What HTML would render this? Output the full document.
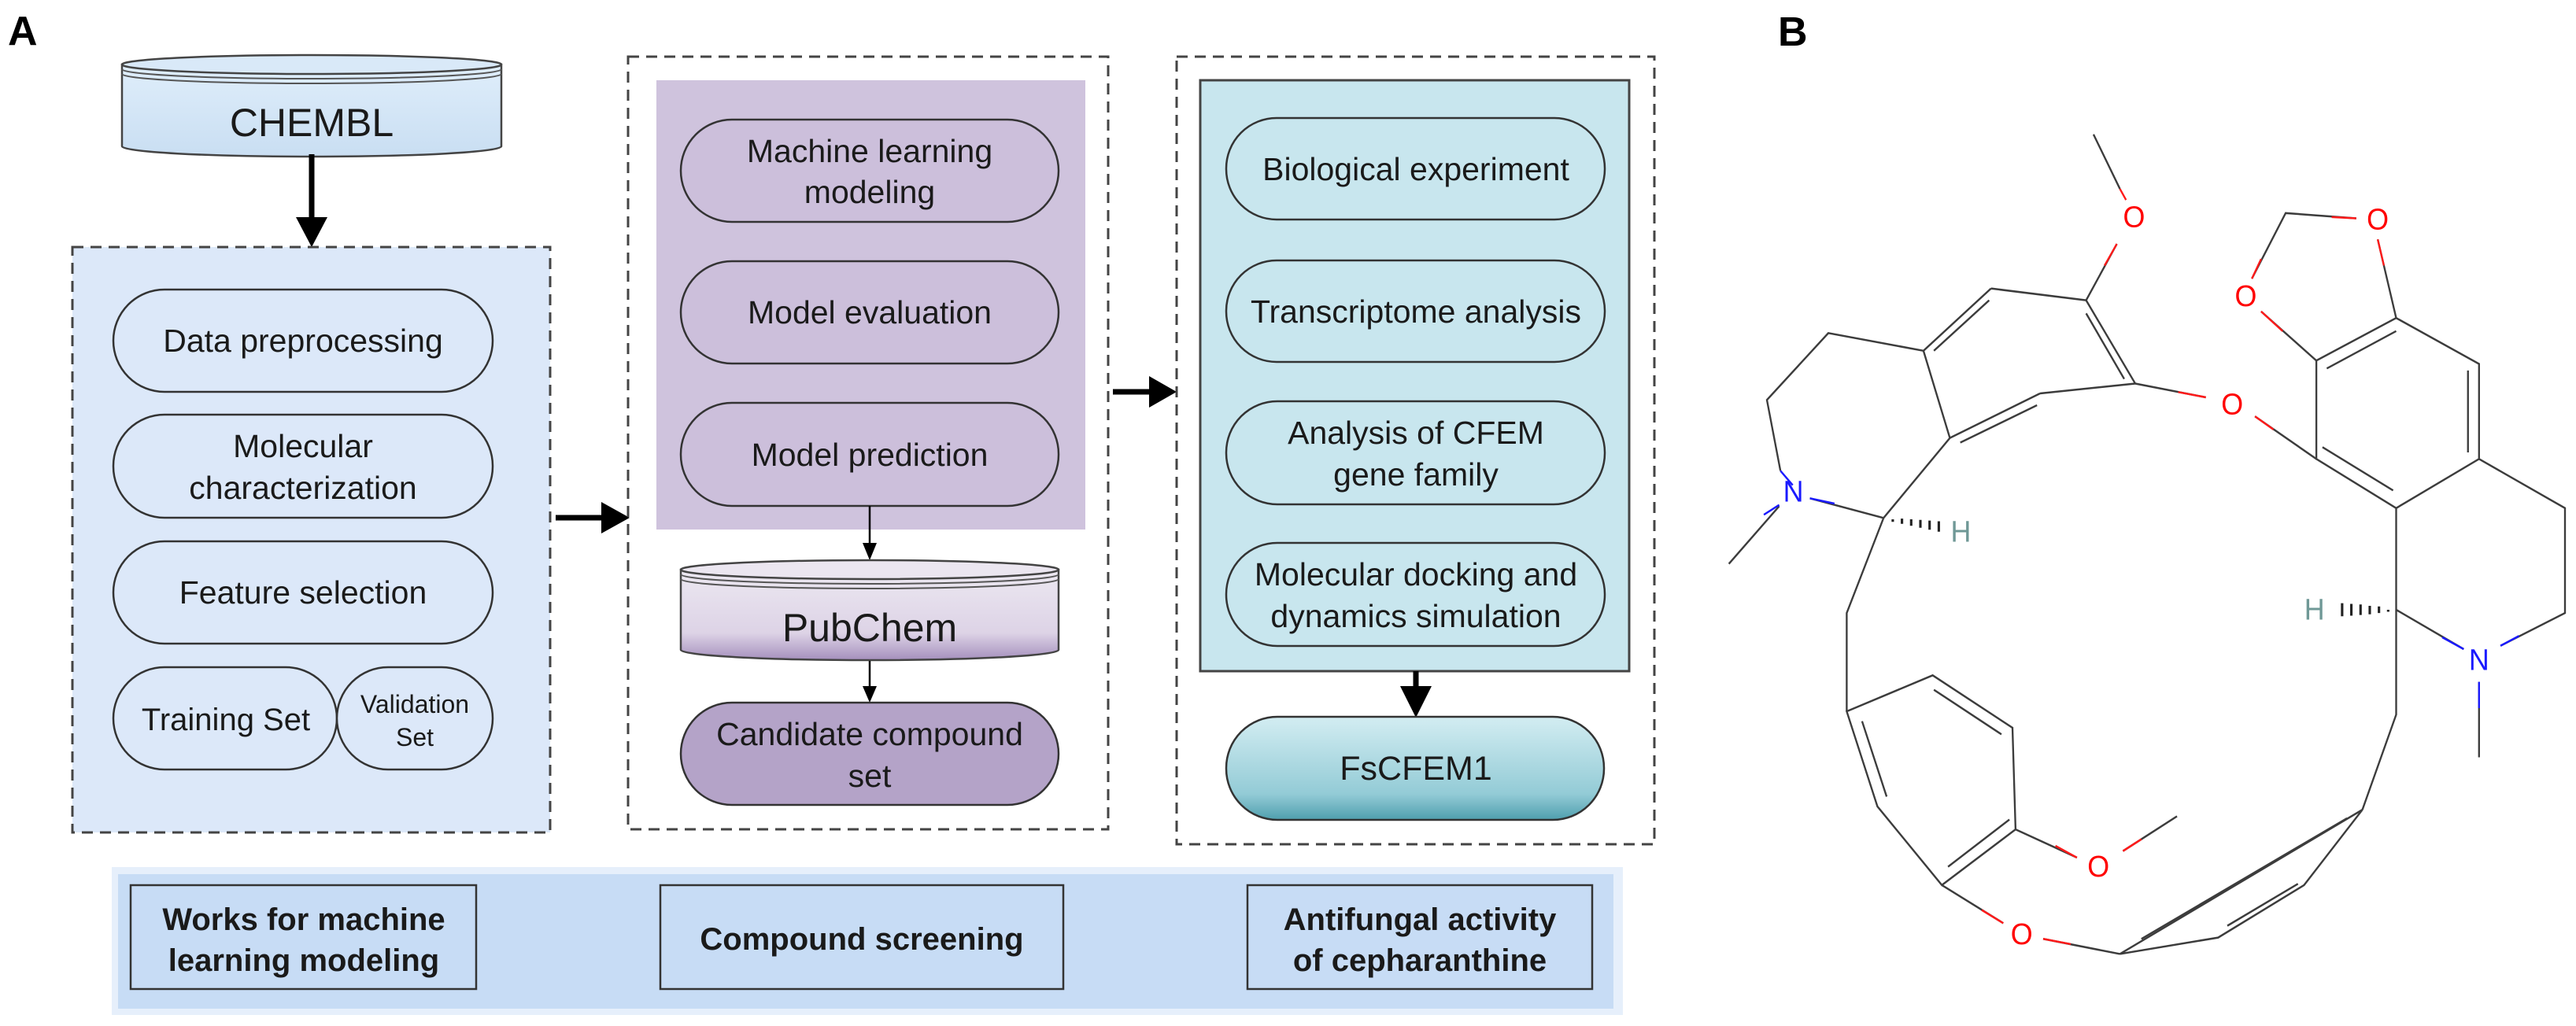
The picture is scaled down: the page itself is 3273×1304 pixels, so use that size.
<!DOCTYPE html>
<html><head><meta charset="utf-8"><style>
html,body{margin:0;padding:0;background:#fff;}
svg{display:block;}
text{font-family:"Liberation Sans",Arial,sans-serif;fill:#1a1a1a;}
</style></head><body>
<svg width="3273" height="1304" viewBox="0 0 3273 1304" xmlns="http://www.w3.org/2000/svg">
<defs>
<linearGradient id="pc" x1="0" y1="0" x2="0" y2="1"><stop offset="0" stop-color="#ece8f1"/><stop offset="0.7" stop-color="#ddd3e6"/><stop offset="1" stop-color="#a58fbd"/></linearGradient>
<linearGradient id="fs" x1="0" y1="0" x2="0" y2="1"><stop offset="0" stop-color="#d3edf2"/><stop offset="0.75" stop-color="#93cbd6"/><stop offset="1" stop-color="#4f9fae"/></linearGradient>
<linearGradient id="ch" x1="0" y1="0" x2="0" y2="1"><stop offset="0" stop-color="#dfeefb"/><stop offset="1" stop-color="#c9def2"/></linearGradient>
</defs>

<text x="10" y="57" font-size="52" font-weight="bold" style="fill:#000">A</text>
<text x="2259" y="58" font-size="52" font-weight="bold" style="fill:#000">B</text>

<!-- CHEMBL cylinder -->
<path d="M155 82 L155 186 A241 13 0 0 0 637 186 L637 82 Z" fill="url(#ch)" stroke="#444" stroke-width="2.5"/>
<ellipse cx="396" cy="82" rx="241" ry="12" fill="#d9e9f8" stroke="#444" stroke-width="2.5"/>
<path d="M155 88 A241 12 0 0 0 637 88 M155 94 A241 12 0 0 0 637 94" fill="none" stroke="#555" stroke-width="2"/>
<text x="396" y="173" font-size="50" text-anchor="middle">CHEMBL</text>
<line x1="396" y1="196" x2="396" y2="282" stroke="#000" stroke-width="7"/>
<polygon points="376,276 416,276 396,314" fill="#000"/>

<!-- Box 1 -->
<rect x="92" y="314" width="607" height="744" fill="#dce8f9" stroke="#444" stroke-width="3" stroke-dasharray="14,9"/>
<g fill="#dce8f9" stroke="#333" stroke-width="2.5">
<rect x="144" y="368" width="482" height="130" rx="65"/>
<rect x="144" y="527" width="482" height="131" rx="65"/>
<rect x="144" y="688" width="482" height="130" rx="65"/>
<rect x="144" y="848" width="284" height="130" rx="65"/>
<rect x="428" y="848" width="198" height="130" rx="65"/>
</g>
<g font-size="41" text-anchor="middle">
<text x="385" y="447">Data preprocessing</text>
<text x="385" y="581">Molecular</text>
<text x="385" y="634">characterization</text>
<text x="385" y="767">Feature selection</text>
<text x="287" y="928" font-size="40">Training Set</text>
<text x="527" y="906" font-size="32">Validation</text>
<text x="527" y="948" font-size="32">Set</text>
</g>
<line x1="706" y1="658" x2="770" y2="658" stroke="#000" stroke-width="7"/>
<polygon points="764,638 764,678 800,658" fill="#000"/>

<!-- Box 2 -->
<rect x="798" y="72" width="610" height="982" fill="none" stroke="#444" stroke-width="3" stroke-dasharray="14,9"/>
<rect x="834" y="102" width="545" height="571" fill="#cfc3dd"/>
<g fill="#ccbfdb" stroke="#333" stroke-width="2.5">
<rect x="865" y="152" width="480" height="130" rx="65"/>
<rect x="865" y="332" width="480" height="130" rx="65"/>
<rect x="865" y="512" width="480" height="131" rx="65"/>
</g>
<g font-size="41" text-anchor="middle">
<text x="1105" y="206">Machine learning</text>
<text x="1105" y="258">modeling</text>
<text x="1105" y="411">Model evaluation</text>
<text x="1105" y="592">Model prediction</text>
</g>
<line x1="1105" y1="643" x2="1105" y2="695" stroke="#000" stroke-width="2.5"/>
<polygon points="1096,690 1114,690 1105,712" fill="#000"/>
<path d="M865 724 L865 826 A240 13 0 0 0 1345 826 L1345 724 Z" fill="url(#pc)" stroke="#444" stroke-width="2.5"/>
<ellipse cx="1105" cy="724" rx="240" ry="12" fill="#ebe6f0" stroke="#444" stroke-width="2.5"/>
<path d="M865 730 A240 12 0 0 0 1345 730 M865 736 A240 12 0 0 0 1345 736" fill="none" stroke="#555" stroke-width="2"/>
<text x="1105" y="815" font-size="50" text-anchor="middle">PubChem</text>
<line x1="1105" y1="840" x2="1105" y2="876" stroke="#000" stroke-width="2.5"/>
<polygon points="1096,872 1114,872 1105,893" fill="#000"/>
<rect x="865" y="893" width="480" height="130" rx="65" fill="#b4a3c8" stroke="#333" stroke-width="2.5"/>
<text x="1105" y="947" font-size="41" text-anchor="middle">Candidate compound</text>
<text x="1105" y="1000" font-size="41" text-anchor="middle">set</text>

<line x1="1414" y1="498" x2="1465" y2="498" stroke="#000" stroke-width="7"/>
<polygon points="1460,478 1460,518 1495,498" fill="#000"/>

<!-- Box 3 -->
<rect x="1495" y="72" width="607" height="1001" fill="none" stroke="#444" stroke-width="3" stroke-dasharray="14,9"/>
<rect x="1525" y="102" width="545" height="751" fill="#c8e6ee" stroke="#444" stroke-width="3"/>
<g fill="#c8e6ee" stroke="#333" stroke-width="2.5">
<rect x="1558" y="150" width="481" height="129" rx="64"/>
<rect x="1558" y="331" width="481" height="129" rx="64"/>
<rect x="1558" y="510" width="481" height="131" rx="65"/>
<rect x="1558" y="690" width="481" height="131" rx="65"/>
</g>
<g font-size="41" text-anchor="middle">
<text x="1799" y="229">Biological experiment</text>
<text x="1799" y="410">Transcriptome analysis</text>
<text x="1799" y="564">Analysis of CFEM</text>
<text x="1799" y="617">gene family</text>
<text x="1799" y="744">Molecular docking and</text>
<text x="1799" y="797">dynamics simulation</text>
</g>
<line x1="1799" y1="853" x2="1799" y2="880" stroke="#000" stroke-width="7"/>
<polygon points="1779,872 1819,872 1799,912" fill="#000"/>
<rect x="1558" y="911" width="480" height="131" rx="65" fill="url(#fs)" stroke="#333" stroke-width="2.5"/>
<text x="1799" y="991" font-size="43" text-anchor="middle">FsCFEM1</text>

<!-- Bottom band -->
<rect x="142" y="1102" width="1920" height="188" fill="#e6effb"/>
<rect x="150" y="1111" width="1900" height="171" fill="#c7dcf5"/>
<g fill="#c7dcf5" stroke="#333" stroke-width="2.5">
<rect x="166" y="1125" width="439" height="132"/>
<rect x="839" y="1125" width="512" height="132"/>
<rect x="1585" y="1125" width="438" height="132"/>
</g>
<g font-size="40" font-weight="bold" text-anchor="middle">
<text x="386" y="1182">Works for machine</text>
<text x="386" y="1234">learning modeling</text>
<text x="1095" y="1207">Compound screening</text>
<text x="1804" y="1182">Antifungal activity</text>
<text x="1804" y="1234">of  cepharanthine</text>
</g>

<!-- Molecule -->
<g transform="translate(2050,0) scale(0.78,0.8333)" stroke="#3c3c3c" stroke-width="3" fill="none">
<!-- bonds -->
<path d="M782 205 L825 288"/>
<path d="M820 372 L770 458"/>
<path d="M615 440 L770 458 M770 458 L850 585 M850 585 L695 600 M695 600 L548 668 M548 668 L505 535 M505 535 L615 440"/>
<path d="M770 478 L832 578 M690 618 L565 675 M522 535 L612 458"/>
<path d="M850 585 L965 606"/>
<path d="M1045 635 L1145 700"/>
<path d="M505 535 L350 508 L250 610 L272 718"/>
<path d="M440 790 L548 668"/>
<path d="M440 790 L380 935 L380 1085"/>
<path d="M380 1085 L520 1030 L650 1110 L655 1265 L535 1350 L430 1230 Z"/>
<path d="M522 1052 L632 1120 M645 1250 L545 1322 M405 1100 L445 1215"/>
<path d="M655 1265 L755 1308"/>
<path d="M830 1298 L918 1245"/>
<path d="M535 1350 L635 1408"/>
<path d="M700 1432 L825 1455"/>
<path d="M825 1455 L985 1430 L1125 1350 L1220 1235 M825 1455 L1220 1235"/>
<path d="M1000 1412 L1115 1348 M860 1432 L1195 1248"/>
<path d="M1220 1235 L1275 1090 L1275 930"/>
<path d="M1275 930 L1275 775"/>
<path d="M1145 700 L1275 775 L1410 700 L1410 555 L1275 485 L1145 550 Z"/>
<path d="M1155 682 L1270 748 M1392 690 L1392 565 M1275 505 L1162 562"/>
<path d="M1410 700 L1550 775 L1550 935 L1445 985"/>
<path d="M1410 1040 L1410 1155"/>
<path d="M1145 550 L1055 475"/>
<path d="M1040 425 L1095 325 L1210 333"/>
<path d="M1245 365 L1275 485"/>
<!-- coloured bond halves -->
<path d="M272 718 L292 740" stroke="#1a1aff"/>
<path d="M188 860 L270 772" stroke="#3c3c3c"/>
<path d="M245 785 L270 770" stroke="#1a1aff"/>
<path d="M320 760 L440 790"/>
<path d="M320 760 L360 768" stroke="#1a1aff"/>
<path d="M1275 930 L1385 990"/>
<path d="M1350 972 L1385 990" stroke="#1a1aff"/>
<path d="M1410 1040 L1410 1080" stroke="#1a1aff"/>
<path d="M1445 985 L1475 970" stroke="#1a1aff"/>
<path d="M820 372 L800 405 M825 288 L835 305" stroke="#ff1a1a"/>
<path d="M920 598 L965 606 M1045 635 L1075 655" stroke="#ff1a1a"/>
<path d="M1245 365 L1255 405 M1170 331 L1210 333" stroke="#ff1a1a"/>
<path d="M1055 475 L1090 505 M1040 425 L1055 395" stroke="#ff1a1a"/>
<path d="M720 1290 L755 1308 M830 1298 L860 1280" stroke="#ff1a1a"/>
<path d="M600 1388 L635 1408 M700 1432 L745 1440" stroke="#ff1a1a"/>
<!-- hashed wedges -->
<path d="M455 792 L455 796 M470 791 L470 799 M485 792 L485 802 M500 793 L500 805 M515 794 L515 808 M530 795 L530 811" stroke="#222" stroke-width="4"/>
<path d="M1262 930 L1262 933 M1247 925 L1247 935 M1232 924 L1232 937 M1217 922 L1217 938 M1202 921 L1202 939 M1187 920 L1187 940" stroke="#222" stroke-width="4"/>
</g>
<g transform="translate(2050,0) scale(0.78,0.8333)" font-size="46" text-anchor="middle">
<text x="848" y="346" style="fill:#ff0000">O</text>
<text x="1008" y="632" style="fill:#ff0000">O</text>
<text x="1030" y="467" style="fill:#ff0000">O</text>
<text x="1245" y="350" style="fill:#ff0000">O</text>
<text x="790" y="1337" style="fill:#ff0000">O</text>
<text x="665" y="1440" style="fill:#ff0000">O</text>
<text x="293" y="765" style="fill:#1a1aff">N</text>
<text x="1410" y="1022" style="fill:#1a1aff">N</text>
<text x="566" y="826" style="fill:#6f9896">H</text>
<text x="1142" y="945" style="fill:#6f9896">H</text>
</g>
</svg>
</body></html>
